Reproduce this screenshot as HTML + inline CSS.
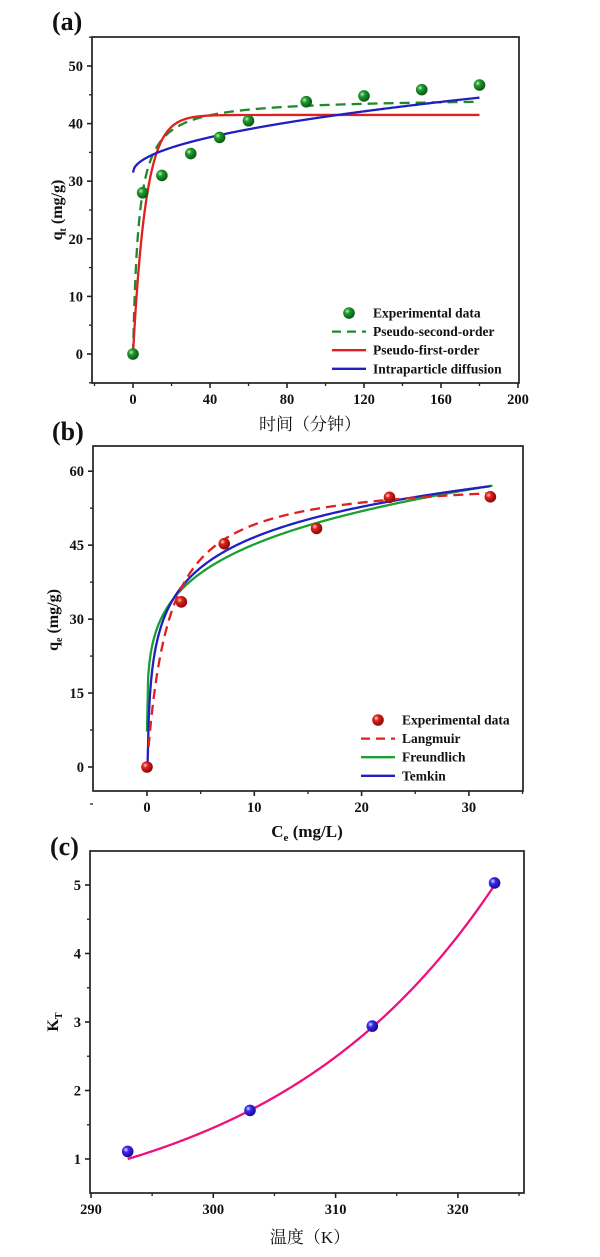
<!DOCTYPE html>
<html><head><meta charset="utf-8"><style>
html,body{margin:0;padding:0;background:#fff;}
svg text{font-family:"Liberation Serif","Noto Serif CJK SC",serif;font-weight:bold;fill:#111;}
</style></head><body>
<svg id="s" width="600" height="1252" xmlns="http://www.w3.org/2000/svg">
<defs>
<radialGradient id="gg" cx="35%" cy="35%" r="65%"><stop offset="0" stop-color="#bff0bf"/><stop offset="0.35" stop-color="#1e9a2e"/><stop offset="1" stop-color="#0b5a14"/></radialGradient>
<radialGradient id="gr" cx="35%" cy="35%" r="65%"><stop offset="0" stop-color="#ffd0d0"/><stop offset="0.35" stop-color="#e0201a"/><stop offset="1" stop-color="#8a0a08"/></radialGradient>
<radialGradient id="gb" cx="35%" cy="35%" r="65%"><stop offset="0" stop-color="#e0e0ff"/><stop offset="0.35" stop-color="#3a2af0"/><stop offset="1" stop-color="#1a0c90"/></radialGradient>
</defs>
<g id="root"></g>
</svg>
<script>
var R=document.getElementById('root'),NS='http://www.w3.org/2000/svg';
function el(t,a,txt){var e=document.createElementNS(NS,t);for(var k in a)e.setAttribute(k,a[k]);if(txt!=null)e.textContent=txt;R.appendChild(e);return e;}
function panel(P){
 var X=function(v){return P.x0+(v-P.xv0)*P.xs;},Y=function(v){return P.y0-(v-P.yv0)*P.ys;};
 el('rect',{x:P.L,y:P.T,width:P.Rr-P.L,height:P.B-P.T,fill:'none',stroke:'#222','stroke-width':1.7});
 P.xt.forEach(function(v){el('line',{x1:X(v),x2:X(v),y1:P.B,y2:P.B+5,stroke:'#222','stroke-width':1.6});el('text',{x:X(v),y:P.B+21,'text-anchor':'middle','font-size':14.5},String(v));});
 P.xm.forEach(function(v){el('line',{x1:X(v),x2:X(v),y1:P.B,y2:P.B+3,stroke:'#222','stroke-width':1.3});});
 P.yt.forEach(function(v){el('line',{x1:P.L-5,x2:P.L,y1:Y(v),y2:Y(v),stroke:'#222','stroke-width':1.6});el('text',{x:P.L-9,y:Y(v)+5,'text-anchor':'end','font-size':14.5},String(v));});
 P.ym.forEach(function(v){el('line',{x1:P.L-3,x2:P.L,y1:Y(v),y2:Y(v),stroke:'#222','stroke-width':1.3});});
 P.curves.forEach(function(c){var d='';for(var i=0;i<=300;i++){var t=c.a+(c.b-c.a)*i/300;d+=(i?'L':'M')+X(t).toFixed(2)+','+Y(c.f(t)).toFixed(2);}
  var a={d:d,fill:'none',stroke:c.col,'stroke-width':2.3};if(c.dash)a['stroke-dasharray']=c.dash;el('path',a);});
 P.pts.forEach(function(p){el('circle',{cx:X(p[0]),cy:Y(p[1]),r:5.8,fill:'url(#'+P.grad+')'});});
}
panel({L:92,Rr:519,T:37,B:383,x0:133,xv0:0,xs:1.925,y0:354,yv0:0,ys:5.76,
 xt:[0,40,80,120,160,200],xm:[-20,20,60,100,140,180],yt:[0,10,20,30,40,50],ym:[-5,5,15,25,35,45,55],grad:'gg',
 curves:[{a:0,b:180,col:'#1e8a2a',dash:'10,6',f:function(t){return 44.5*0.34*t/(1+0.34*t);}},
 {a:0,b:180,col:'#e02020',f:function(t){return 41.5*(1-Math.exp(-0.15*t));}},
 {a:0,b:180,col:'#2020c0',f:function(t){return 31.5+0.97*Math.sqrt(t);}}],
 pts:[[0,0],[5,28],[15,31],[30,34.8],[45,37.6],[60,40.5],[90,43.8],[120,44.8],[150,45.9],[180,46.7]]});
panel({L:93,Rr:523,T:446,B:791,x0:147,xv0:0,xs:10.73,y0:767,yv0:0,ys:4.93,
 xt:[0,10,20,30],xm:[5,15,25,35],yt:[0,15,30,45,60],ym:[-7.5,7.5,22.5,37.5,52.5],grad:'gr',
 curves:[{a:0.001,b:32.2,col:'#1aa030',f:function(c){return 28.5*Math.pow(c,0.2);}},
 {a:0.06,b:32,col:'#2020c0',f:function(c){return 8.9*Math.log(18.8*c);}},
 {a:0.15,b:32,col:'#e02020',dash:'10,6',f:function(c){return 59*0.5*c/(1+0.5*c);}}],
 pts:[[0,0],[3.2,33.5],[7.2,45.3],[15.8,48.4],[22.6,54.7],[32,54.8]]});
panel({L:90,Rr:524,T:851,B:1193,x0:91,xv0:290,xs:12.23,y0:1159,yv0:1,ys:68.5,
 xt:[290,300,310,320],xm:[295,305,315,325],yt:[1,2,3,4,5],ym:[1.5,2.5,3.5,4.5],grad:'gb',
 curves:[{a:293,b:323,col:'#f0107a',f:function(t){return Math.exp(Math.log(5)/30*(t-293));}}],
 pts:[[293,1.11],[303,1.71],[313,2.94],[323,5.03]]});
function leg(x,y,items){items.forEach(function(it,i){var yy=y+i*18.6;
 if(it.pt)el('circle',{cx:x+17,cy:yy,r:5.8,fill:'url(#'+it.pt+')'});else{var a={x1:x,x2:x+34,y1:yy,y2:yy,stroke:it.col,'stroke-width':2.3};if(it.dash)a['stroke-dasharray']=it.dash;el('line',a);}
 el('text',{x:x+41,y:yy+4.5,'font-size':13.5},it.t);});}
leg(332,313,[{pt:'gg',t:'Experimental data'},{col:'#1e8a2a',dash:'9,6',t:'Pseudo-second-order'},{col:'#e02020',t:'Pseudo-first-order'},{col:'#2020c0',t:'Intraparticle diffusion'}]);
leg(361,720,[{pt:'gr',t:'Experimental data'},{col:'#e02020',dash:'9,6',t:'Langmuir'},{col:'#1aa030',t:'Freundlich'},{col:'#2020c0',t:'Temkin'}]);
el('text',{x:52,y:30,'font-size':26},'(a)');
el('text',{x:52,y:440,'font-size':26},'(b)');
el('text',{x:50,y:855,'font-size':26},'(c)');
el('text',{x:310,y:430,'text-anchor':'middle','font-size':17,style:'font-weight:normal'},'时间（分钟）');
el('text',{x:310,y:1243,'text-anchor':'middle','font-size':17,style:'font-weight:normal'},'温度（K）');
var t=el('text',{x:307,y:837,'text-anchor':'middle','font-size':17});t.innerHTML='C<tspan font-size="11" dy="4">e</tspan><tspan dy="-4"> (mg/L)</tspan>';
t=el('text',{transform:'translate(62,210) rotate(-90)','text-anchor':'middle','font-size':16});t.innerHTML='q<tspan font-size="10" dy="4">t</tspan><tspan dy="-4"> (mg/g)</tspan>';
t=el('text',{transform:'translate(58,620) rotate(-90)','text-anchor':'middle','font-size':16});t.innerHTML='q<tspan font-size="10" dy="4">e</tspan><tspan dy="-4"> (mg/g)</tspan>';
t=el('text',{transform:'translate(58,1022) rotate(-90)','text-anchor':'middle','font-size':16});t.innerHTML='K<tspan font-size="10" dy="4">T</tspan>';
</script>
</body></html>
